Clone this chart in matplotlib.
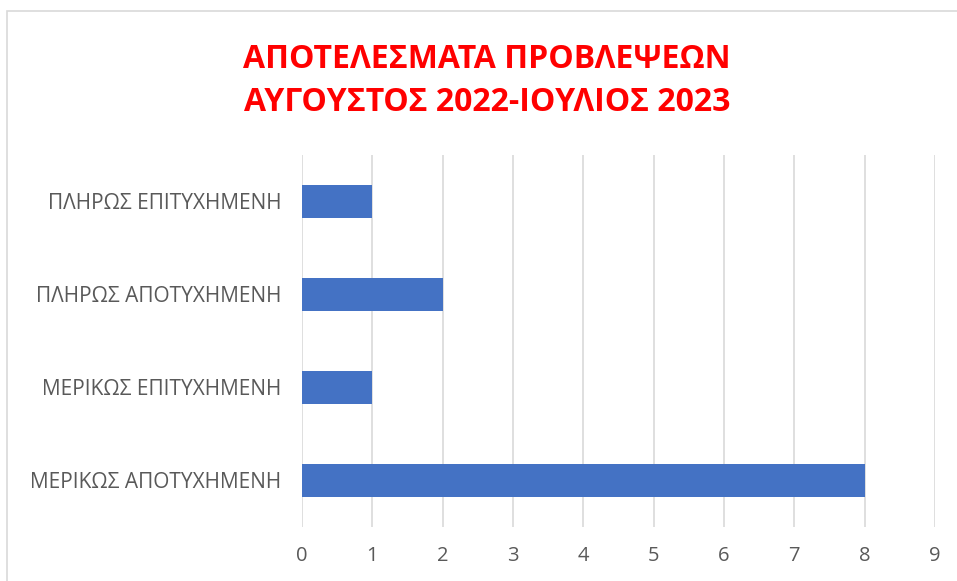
import matplotlib
matplotlib.use("Agg")
import matplotlib.pyplot as plt
from matplotlib.patches import Rectangle

# prediction outcomes, Aug 2022 - Jul 2023
categories = ["ΜΕΡΙΚΩΣ ΑΠΟΤΥΧΗΜΕΝΗ", "ΜΕΡΙΚΩΣ ΕΠΙΤΥΧΗΜΕΝΗ",
              "ΠΛΗΡΩΣ ΑΠΟΤΥΧΗΜΕΝΗ", "ΠΛΗΡΩΣ ΕΠΙΤΥΧΗΜΕΝΗ"]
counts = [8, 1, 2, 1]
xticks = list(range(0, 10))

BAR = "#4472C4"
TXT = "#595959"
GRID = "#D9D9D9"

plt.rcParams["font.family"] = ["Open Sans", "DejaVu Sans"]

fig = plt.figure(figsize=(9.57, 5.81), dpi=100)
# chart frame, open towards the right and bottom edges
fig.patches.append(Rectangle((7/957, -0.1), 1.2, 1 - 11/581 + 0.1, transform=fig.transFigure,
                             fill=False, edgecolor="#D9D9D9", lw=1.2))

ax = fig.add_axes([302/957, 1 - 527/581, (935 - 302)/957, (527 - 155)/581])
ax.barh(range(len(categories)), counts, height=0.35, color=BAR, zorder=3)
ax.set_xlim(0, 9); ax.set_ylim(-0.5, len(categories) - 0.5)
ax.set_xticks(xticks)
ax.set_yticks(range(len(categories)))
ax.set_yticklabels(categories)
ax.xaxis.grid(True, color=GRID, lw=1.2, zorder=0)
for s in ax.spines.values():
    s.set_visible(False)
ax.tick_params(axis="both", length=0, colors=TXT, labelsize=15)
ax.tick_params(axis="x", pad=13.5, labelsize=14.5)
ax.tick_params(axis="y", pad=15)

fig.text(487/957, 1 - 81/581, "ΑΠΟΤΕΛΕΣΜΑΤΑ ΠΡΟΒΛΕΨΕΩΝ\nΑΥΓΟΥΣΤΟΣ 2022-ΙΟΥΛΙΟΣ 2023",
         ha="center", va="center", color="#FF0000", fontsize=23, fontweight="bold",
         linespacing=1.4)

fig.savefig("out.png", dpi=100)
